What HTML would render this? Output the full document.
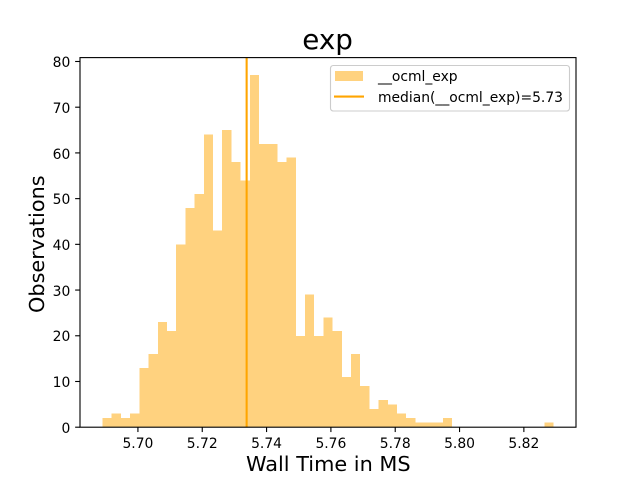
<!DOCTYPE html>
<html>
<head>
<meta charset="utf-8">
<title>exp</title>
<style>
html,body{margin:0;padding:0;background:#fff;width:640px;height:480px;overflow:hidden}
svg{display:block}
text{font-family:"DejaVu Sans","Liberation Sans",sans-serif;fill:#000}
</style>
</head>
<body>
<svg id="chart" width="640" height="480" viewBox="0 0 640 480" xmlns="http://www.w3.org/2000/svg">
  <rect x="0" y="0" width="640" height="480" fill="#fff"/>
  <g id="bars"></g>
  <line id="median" stroke="#ffa500" stroke-width="2.08"></line>
  <g id="xticks"></g>
  <g id="yticks"></g>
  <rect x="80" y="57.6" width="496" height="369.6" fill="none" stroke="#000" stroke-width="1.11"/>
  <text x="327.6" y="49" font-size="27.78" text-anchor="middle">exp</text>
  <text x="328.3" y="471" font-size="20.83" text-anchor="middle">Wall Time in MS</text>
  <text x="0" y="0" font-size="20.83" text-anchor="middle" transform="translate(44,244.2) rotate(-90)">Observations</text>
  <g>
    <rect x="330.5" y="65.5" width="239" height="45.5" rx="2.8" ry="2.8" fill="#fff" fill-opacity="0.8" stroke="#ccc" stroke-width="1.11"/>
    <rect x="335" y="71" width="28" height="10" fill="#ffa500" fill-opacity="0.5"/>
    <text x="378" y="81" font-size="13.89">__ocml_exp</text>
    <line x1="334" y1="96.6" x2="364" y2="96.6" stroke="#ffa500" stroke-width="2.08"/>
    <text x="378" y="102" font-size="13.89">median(__ocml_exp)=5.73</text>
  </g>
</svg>
<script>
const counts = [2,3,2,3,13,16,23,21,40,48,51,64,43,65,58,54,77,62,62,58,59,20,29,20,24,21,11,16,9,4,6,5,3,2,1,1,1,2,0,0,0,0,0,0,0,0,0,0,1];
const binStart = 5.6890;
const binEnd = 5.8292;
const medianValue = 5.7338;
const xTickValues = [5.70,5.72,5.74,5.76,5.78,5.80,5.82];
const yTickValues = [0,10,20,30,40,50,60,70,80];

const SVGNS = 'http://www.w3.org/2000/svg';
const axL = 80, axR = 576, axT = 57.6, axB = 427.2;
const xPad = (binEnd - binStart) * 0.05;
const xLo = binStart - xPad, xHi = binEnd + xPad;
const yHi = Math.max.apply(null, counts) * 1.05;
function xScale(v){ return axL + (v - xLo) / (xHi - xLo) * (axR - axL); }
function yScale(v){ return axB - v / yHi * (axB - axT); }
function make(tag, attrs, parent){
  const el = document.createElementNS(SVGNS, tag);
  Object.keys(attrs).forEach(function(k){ el.setAttribute(k, attrs[k]); });
  parent.appendChild(el);
  return el;
}

const barsG = document.getElementById('bars');
const binWidth = (binEnd - binStart) / counts.length;
counts.forEach(function(c, i){
  if (c <= 0) return;
  const x0 = xScale(binStart + i * binWidth);
  const x1 = xScale(binStart + (i + 1) * binWidth);
  const rect = make('rect', {x: x0, y: yScale(c), width: x1 - x0, height: axB - yScale(c), fill: '#ffa500', 'fill-opacity': 0.5, 'shape-rendering': 'crispEdges'}, barsG);
  
  
});

const med = document.getElementById('median');
med.setAttribute('x1', xScale(medianValue));
med.setAttribute('x2', xScale(medianValue));
med.setAttribute('y1', axT);
med.setAttribute('y2', axB);

const xG = document.getElementById('xticks');
xTickValues.forEach(function(v){
  const x = xScale(v);
  const tick = make('line', {x1: x, x2: x, y1: axB, y2: axB + 4.86, stroke: '#000', 'stroke-width': 1.11}, xG);
  
  
  const label = make('text', {x: x, y: 448, 'font-size': 13.89, 'text-anchor': 'middle'}, xG);
  
  
  label.textContent = v.toFixed(2);
});

const yG = document.getElementById('yticks');
yTickValues.forEach(function(v){
  const y = yScale(v);
  const tick = make('line', {x1: axL - 4.86, x2: axL, y1: y, y2: y, stroke: '#000', 'stroke-width': 1.11}, yG);
  
  
  const label = make('text', {x: axL - 9.7, y: Math.round(y + 5.6), 'font-size': 13.89, 'text-anchor': 'end'}, yG);
  
  
  label.textContent = String(v);
});
</script>
</body>
</html>
